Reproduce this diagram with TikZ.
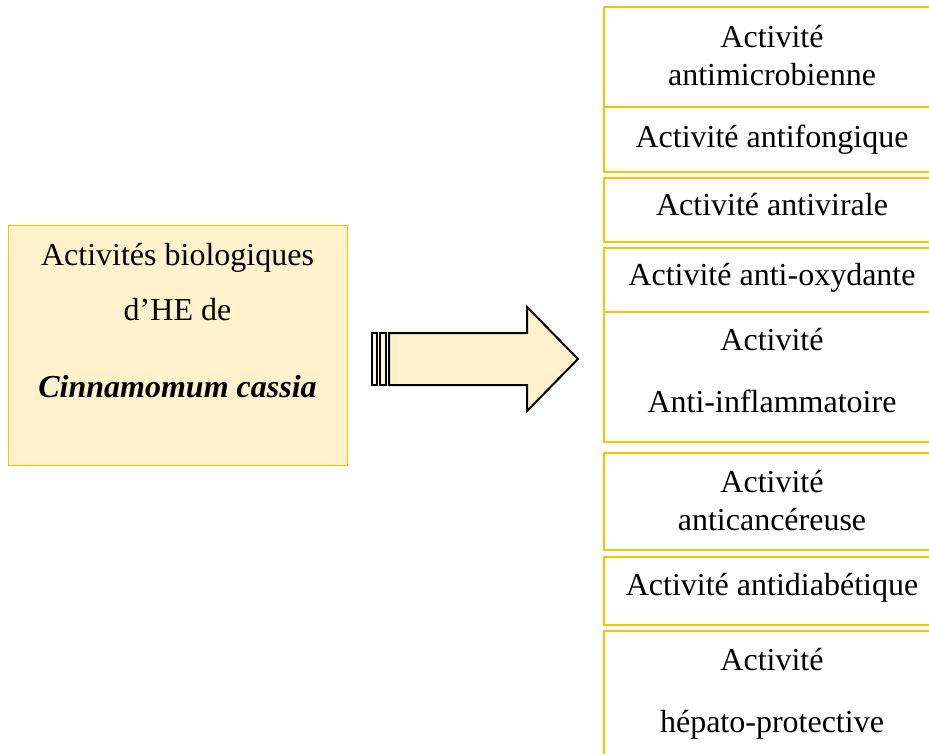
\documentclass[tikz,border=0pt]{standalone}
\usepackage{fontspec}
\setmainfont{Liberation Serif}
\definecolor{boxgold}{HTML}{FFC000}
\definecolor{boxcream}{HTML}{FFF2CC}

\begin{document}
\begin{tikzpicture}[x={(1pt,0pt)},y={(0pt,-1pt)},
  every node/.style={outer sep=0pt, inner sep=0pt},
  actbox/.style={draw=boxgold, line width=1.6pt, fill=white, minimum width=336pt},
  txt/.style={anchor=base, font=\fontsize{32}{38}\selectfont},
  arrowpart/.style={draw=black, line width=2pt, fill=boxcream, line join=miter}]

\useasboundingbox (0,0) rectangle (929,753);
\clip (0,0) rectangle (929,753);

% source box
\node[draw=boxgold, line width=1pt, fill=boxcream, minimum width=339pt, minimum height=240pt] (src) at (177.5,345) {};
\node[txt] (src1) at (177.5,265) {Activités biologiques};
\node[txt] (src2) at (177.5,320) {d’HE de};
\node[txt] (src3) at (177.5,397) {\textbf{\textit{Cinnamomum cassia}}};

% striped block arrow
\draw[arrowpart] (372,333) rectangle (377,385);
\draw[arrowpart] (380,333) rectangle (386,385);
\draw[arrowpart] (389,333) -- (527,333) -- (527,307) -- (578,359) -- (527,411) -- (527,385) -- (389,385) -- cycle;

% activity boxes
\node[actbox, minimum height=100pt] (amic) at (772,57) {};
\node[actbox, minimum height=65pt] (afon) at (772,139.5) {};
\node[actbox, minimum height=64pt] (avir) at (772,210) {};
\node[actbox, minimum height=64pt] (aoxy) at (772,280) {};
\node[actbox, minimum height=130pt] (ainf) at (772,377) {};
\node[actbox, minimum height=97pt] (acan) at (772,501.5) {};
\node[actbox, minimum height=68pt] (adia) at (772,591) {};
\node[actbox, minimum height=169pt] (ahep) at (772,715.5) {};

% activity texts
\node[txt] (amic1) at (772,47) {Activité};
\node[txt] (amic2) at (772,85) {antimicrobienne};
\node[txt] (afon1) at (772,147) {Activité antifongique};
\node[txt] (avir1) at (772,215) {Activité antivirale};
\node[txt] (aoxy1) at (772,285) {Activité anti-oxydante};
\node[txt] (ainf1) at (772,350) {Activité};
\node[txt] (ainf2) at (772,412) {Anti-inflammatoire};
\node[txt] (acan1) at (772,492) {Activité};
\node[txt] (acan2) at (772,530) {anticancéreuse};
\node[txt] (adia1) at (772,595) {Activité antidiabétique};
\node[txt] (ahep1) at (772,670) {Activité};
\node[txt] (ahep2) at (772,732) {hépato-protective};
\end{tikzpicture}
\end{document}
